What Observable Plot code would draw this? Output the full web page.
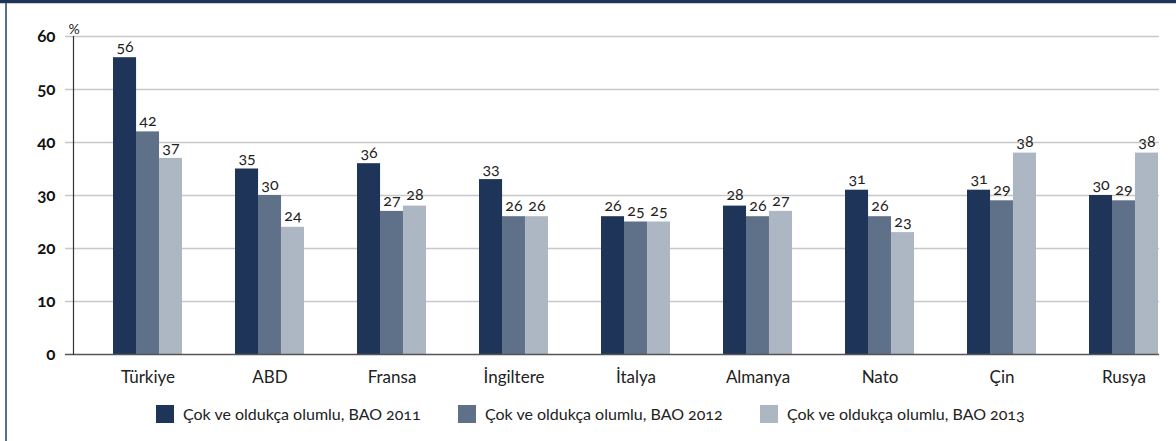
<!DOCTYPE html>
<html>
<head>
<meta charset="utf-8">
<script src="https://cdn.jsdelivr.net/npm/d3@7"></script>
<script src="https://cdn.jsdelivr.net/npm/@observablehq/plot@0.6"></script>
<style>
  html, body { margin: 0; padding: 0; background: #fff; }
  #wrap { position: relative; width: 1176px; height: 441px; overflow: hidden; font-family: Lato, "Open Sans", sans-serif; }
  #topband { position: absolute; left: 0; top: 0; width: 1176px; height: 3px; background: #1f3459; border-bottom: 1px solid #c9ced8; }
  #leftband { position: absolute; left: 5px; top: 3px; width: 2px; height: 438px; background: #5b6e8f; }
  #chart { position: absolute; left: 0; top: 0; }
  #legend { position: absolute; left: 156px; top: 404px; display: flex; }
  .item { display: flex; align-items: center; width: 302px; font-size: 16px; color: #222; font-feature-settings: "onum" 1; font-variant-numeric: oldstyle-nums; }
  .sw { width: 18px; height: 18px; margin-right: 9px; flex: none; }
  svg text { font-feature-settings: "onum" 1; font-variant-numeric: oldstyle-nums; }
</style>
</head>
<body>
<div id="wrap">
  <div id="chart"></div>
  <div id="topband"></div>
  <div id="leftband"></div>
  <div id="legend"></div>
</div>
<script>
const categories = ["Türkiye", "ABD", "Fransa", "İngiltere", "İtalya", "Almanya", "Nato", "Çin", "Rusya"];
const seriesNames = ["Çok ve oldukça olumlu, BAO 2011", "Çok ve oldukça olumlu, BAO 2012", "Çok ve oldukça olumlu, BAO 2013"];
const values2011 = [56, 35, 36, 33, 26, 28, 31, 31, 30];
const values2012 = [42, 30, 27, 26, 25, 26, 26, 29, 29];
const values2013 = [37, 24, 28, 26, 25, 27, 23, 38, 38];
const yTicks = [0, 10, 20, 30, 40, 50, 60];
const colors = ["#1f3459", "#5f7089", "#adb6c3"];

const allValues = [values2011, values2012, values2013];
const data = [];
allValues.forEach((vals, i) => vals.forEach((v, j) => data.push({cat: categories[j], series: seriesNames[i], idx: i, v})));

const W = 1176, H = 395;
const mL = 73, mR = 17, mT = 36, mB = 41;
const xRange = [111, W - mR];
const padInner = 0.437;
const bw = d3.scaleBand().domain(categories).range(xRange).paddingInner(padInner).paddingOuter(0).bandwidth();
const sub = bw / 3;

const marks = [
  Plot.ruleY(yTicks.filter(d => d > 0), {stroke: "#c8c8c8", strokeWidth: 1.5, insetLeft: -8}),
];
allValues.forEach((vals, i) => {
  const d = data.filter(r => r.idx === i);
  marks.push(Plot.barY(d, {x: "cat", y: "v", fill: colors[i], insetLeft: i * sub, insetRight: (2 - i) * sub}));
  marks.push(Plot.text(d, {x: "cat", y: "v", text: r => String(r.v), dx: (i - 1) * sub, dy: -11, fontSize: 16, fill: "#222", fontFamily: "Lato, sans-serif"}));
});
marks.push(Plot.ruleY([0], {stroke: "#555", strokeWidth: 1.5, insetLeft: -8}));
marks.push(Plot.frame({anchor: "left", stroke: "#333", strokeWidth: 1.2}));
marks.push(Plot.axisY({ticks: yTicks, tickSize: 0, tickPadding: 18, fontSize: 17, fontWeight: "bold", fill: "#111", tickFormat: d => String(d), label: null}));
marks.push(Plot.axisX({tickSize: 0, tickPadding: 16, fontSize: 17, fill: "#222", label: null}));
marks.push(Plot.text(["%"], {frameAnchor: "top-left", text: d => d, dx: -5, dy: -12, fontSize: 14, fill: "#222", textAnchor: "start"}));

const plot = Plot.plot({
  width: W, height: H,
  marginLeft: mL, marginRight: mR, marginTop: mT, marginBottom: mB,
  style: {fontFamily: "Lato, sans-serif", background: "transparent", overflow: "visible"},
  x: {type: "band", domain: categories, range: xRange, paddingInner: padInner, paddingOuter: 0, axis: null},
  y: {domain: [0, 60], axis: null},
  marks
});
document.getElementById("chart").appendChild(plot);

const legend = document.getElementById("legend");
seriesNames.forEach((s, i) => {
  const it = document.createElement("div");
  it.className = "item";
  const sw = document.createElement("div");
  sw.className = "sw";
  sw.style.background = colors[i];
  const t = document.createElement("span");
  t.textContent = s;
  it.appendChild(sw); it.appendChild(t);
  legend.appendChild(it);
});
</script>
</body>
</html>
